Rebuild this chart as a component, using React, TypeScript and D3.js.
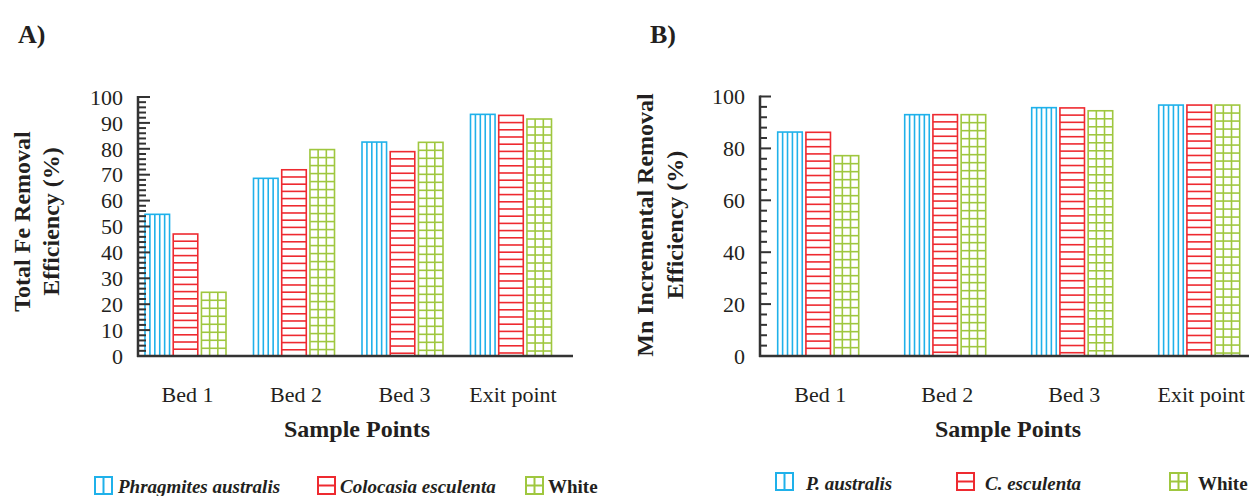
import React from "react";
import * as d3 from "d3";

const categories = ["Bed 1", "Bed 2", "Bed 3", "Exit point"];
const seriesKeys = ["P", "C", "W"];
const legendA = ["Phragmites australis", "Colocasia esculenta", "White"];
const legendB = ["P. australis", "C. esculenta", "White"];
const feP = [54.7, 68.6, 82.6, 93.3];
const feC = [47.1, 71.9, 78.9, 92.9];
const feW = [24.6, 79.7, 82.5, 91.5];
const mnP = [86.3, 93.0, 95.7, 96.7];
const mnC = [86.2, 93.0, 95.6, 96.7];
const mnW = [77.2, 93.0, 94.5, 96.7];
const yTicksA = [0, 10, 20, 30, 40, 50, 60, 70, 80, 90, 100];
const yTicksB = [0, 20, 40, 60, 80, 100];

const COLORS: Record<string, string> = { P: "#1fb1ea", C: "#ee2a30", W: "#9fc73f" };
const TEXT = "#231f20";
const AXIS = "#333333";
const SERIF = "'Liberation Serif', 'Times New Roman', serif";

function PatternBar({ x, y, w, h, kind }: { x: number; y: number; w: number; h: number; kind: string }) {
  const color = COLORS[kind];
  const lines: React.ReactNode[] = [];
  if (kind === "P") {
    for (let i = 1; i < 5; i++) {
      const xx = x + (i * w) / 5;
      lines.push(<line key={"v" + i} x1={xx} x2={xx} y1={y} y2={y + h} />);
    }
  } else if (kind === "C") {
    let i = 0;
    for (let yy = y + 7.2; yy < y + h - 2; yy += 7.2) {
      lines.push(<line key={"h" + i++} x1={x} x2={x + w} y1={yy} y2={yy} />);
    }
  } else {
    for (let i = 1; i < 3; i++) {
      const xx = x + (i * w) / 3;
      lines.push(<line key={"v" + i} x1={xx} x2={xx} y1={y} y2={y + h} />);
    }
    let i = 0;
    for (let yy = y + 8; yy < y + h - 2; yy += 8) {
      lines.push(<line key={"h" + i++} x1={x} x2={x + w} y1={yy} y2={yy} />);
    }
  }
  return (
    <g stroke={color} strokeWidth={1.6} fill="none">
      <rect x={x} y={y} width={w} height={h} fill="#fff" />
      {lines}
    </g>
  );
}

function LegendIcon({ x, y, kind }: { x: number; y: number; kind: string }) {
  const s = 17;
  const color = COLORS[kind];
  return (
    <g stroke={color} strokeWidth={2} fill="#fff">
      <rect x={x} y={y} width={s} height={s} />
      {kind !== "C" && <line x1={x + s / 2} x2={x + s / 2} y1={y} y2={y + s} />}
      {kind !== "P" && <line x1={x} x2={x + s} y1={y + s / 2} y2={y + s / 2} />}
    </g>
  );
}

type PanelProps = {
  label: string;
  labelX: number;
  axisX: number;
  axisEnd: number;
  y0: number;
  y100: number;
  bandStart: number;
  step: number;
  values: number[][];
  ticks: number[];
  minorStep: number;
  tickLabelX: number;
  titleLines: string[];
  titleX: number[];
  titleY: number;
  xTitleX: number;
  legendItems: { text: string; kind: string; iconX: number; textX: number; italic: boolean }[];
  legendIconY: number;
  legendBaseline: number;
  majorLen: number;
  minorLen: number;
};

function Panel(p: PanelProps) {
  const x = d3
    .scaleBand<string>()
    .domain(categories)
    .range([p.bandStart, p.bandStart + p.step * categories.length])
    .paddingInner(0)
    .paddingOuter(0);
  const y = d3.scaleLinear().domain([0, 100]).range([p.y0, p.y100]);
  const groupW = 81;
  const minor = d3.range(0, 100 + 0.001, p.minorStep);
  return (
    <g>
      <text x={p.labelX} y={43} fontFamily={SERIF} fontWeight="bold" fontSize={26} fill={TEXT}>
        {p.label}
      </text>
      {categories.map((c, ci) => {
        const center = (x(c) as number) + x.bandwidth() / 2;
        const sub = d3
          .scaleBand<string>()
          .domain(seriesKeys)
          .range([center - groupW / 2, center + groupW / 2])
          .paddingInner(0.13)
          .paddingOuter(0);
        return (
          <g key={c}>
            {seriesKeys.map((k, si) => {
              const v = p.values[si][ci];
              return (
                <PatternBar key={k} x={sub(k) as number} y={y(v)} w={sub.bandwidth()} h={y(0) - y(v)} kind={k} />
              );
            })}
            <text
              x={center + 2}
              y={402}
              textAnchor="middle"
              fontFamily={SERIF}
              fontSize={22}
              fill={TEXT}
            >
              {c}
            </text>
          </g>
        );
      })}
      {/* y axis */}
      <g stroke={AXIS} strokeWidth={2}>
        {minor.map((t) => {
          const isMajor = p.ticks.includes(t);
          return (
            <line
              key={t}
              x1={p.axisX}
              x2={p.axisX + (isMajor ? p.majorLen : p.minorLen)}
              y1={y(t)}
              y2={y(t)}
            />
          );
        })}
      </g>
      <line x1={p.axisX} x2={p.axisX} y1={y(0) + 1} y2={y(100) - 1} stroke={AXIS} strokeWidth={2.5} />
      <line x1={p.axisX - 1} x2={p.axisEnd} y1={y(0)} y2={y(0)} stroke={AXIS} strokeWidth={2.5} />
      {p.ticks.map((t) => (
        <text
          key={t}
          x={p.tickLabelX}
          y={y(t)}
          dy="0.35em"
          textAnchor="end"
          fontFamily={SERIF}
          fontSize={22}
          fill={TEXT}
        >
          {t}
        </text>
      ))}
      {p.titleLines.map((line, i) => (
        <text
          key={i}
          transform={`translate(${p.titleX[i]},${p.titleY}) rotate(-90)`}
          textAnchor="middle"
          fontFamily={SERIF}
          fontWeight="bold"
          fontSize={24}
          fill={TEXT}
        >
          {line}
        </text>
      ))}
      <text x={p.xTitleX} y={437} textAnchor="middle" fontFamily={SERIF} fontWeight="bold" fontSize={24} fill={TEXT}>
        Sample Points
      </text>
      {p.legendItems.map((it) => (
        <g key={it.text}>
          <LegendIcon x={it.iconX} y={p.legendIconY} kind={it.kind} />
          <text
            x={it.textX}
            y={p.legendBaseline}
            fontFamily={SERIF}
            fontWeight="bold"
            fontStyle={it.italic ? "italic" : "normal"}
            fontSize={19}
            fill={TEXT}
          >
            {it.text}
          </text>
        </g>
      ))}
    </g>
  );
}

export default function App() {
  return (
    <svg
      width={1249}
      height={496}
      viewBox="0 0 1249 496"
      style={{ position: "absolute", left: 0, top: 0, display: "block", background: "#fff" }}
    >
      <rect x={0} y={0} width={1249} height={496} fill="#fff" />
      <Panel
        label="A)"
        labelX={18}
        axisX={138}
        axisEnd={573}
        y0={356}
        y100={97}
        bandStart={131.25}
        step={108.5}
        values={[feP, feC, feW]}
        ticks={yTicksA}
        minorStep={2}
        tickLabelX={123}
        titleLines={["Total Fe Removal", "Efficiency (%)"]}
        titleX={[30, 59]}
        titleY={221.5}
        xTitleX={357}
        legendItems={[
          { text: legendA[0], kind: "P", iconX: 95, textX: 118, italic: true },
          { text: legendA[1], kind: "C", iconX: 318, textX: 340, italic: true },
          { text: legendA[2], kind: "W", iconX: 526, textX: 548, italic: false },
        ]}
        legendIconY={477}
        legendBaseline={493}
        majorLen={12}
        minorLen={8}
      />
      <Panel
        label="B)"
        labelX={650}
        axisX={760}
        axisEnd={1249}
        y0={356}
        y100={96.5}
        bandStart={754.7}
        step={127}
        values={[mnP, mnC, mnW]}
        ticks={yTicksB}
        minorStep={4}
        tickLabelX={745}
        titleLines={["Mn Incremental Removal", "Efficiency (%)"]}
        titleX={[653, 683]}
        titleY={225}
        xTitleX={1008}
        legendItems={[
          { text: legendB[0], kind: "P", iconX: 776, textX: 806, italic: true },
          { text: legendB[1], kind: "C", iconX: 957, textX: 985, italic: true },
          { text: legendB[2], kind: "W", iconX: 1170, textX: 1198, italic: false },
        ]}
        legendIconY={473}
        legendBaseline={490}
        majorLen={11}
        minorLen={7}
      />
    </svg>
  );
}
